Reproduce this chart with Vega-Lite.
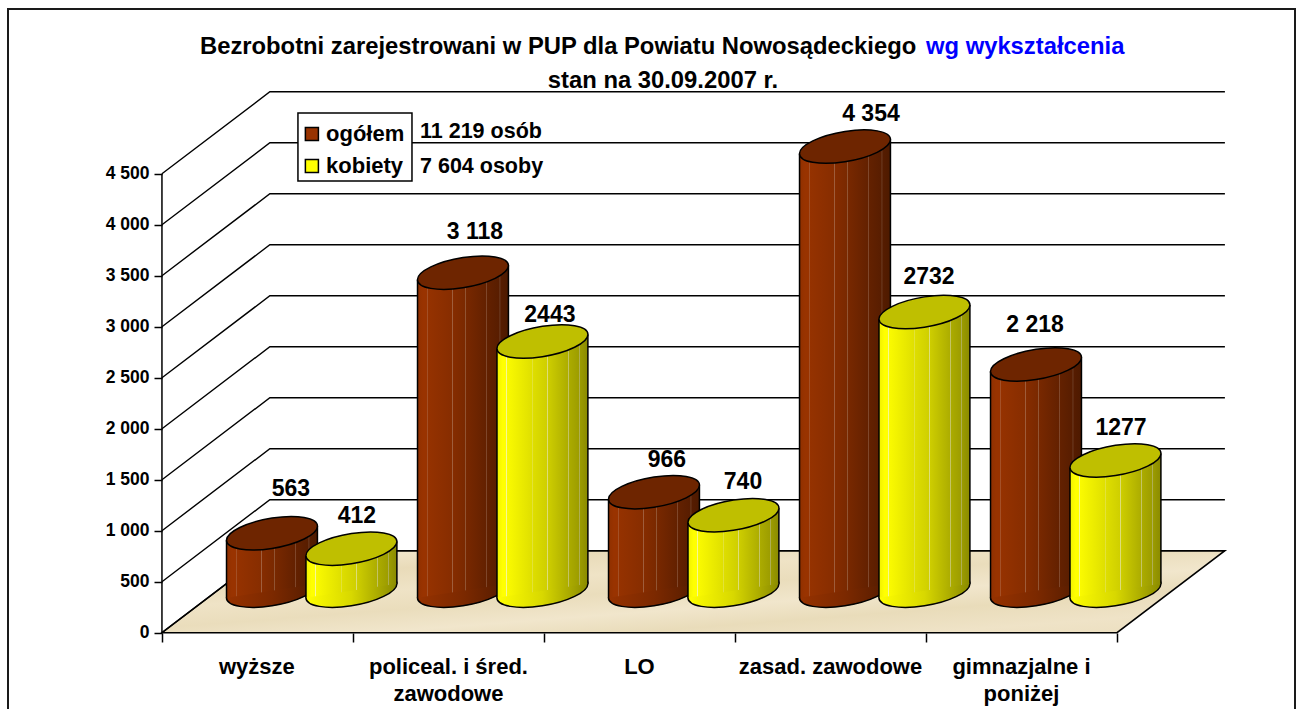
{
"$schema":"https://vega.github.io/schema/vega-lite/v6.json",
"width":1287,"height":703,"autosize":{"type":"none"},
"padding":{"left":8,"top":9,"right":8,"bottom":0},
"background":"#ffffff",
"config":{"font":"Liberation Sans","view":{"stroke":"#1a1a1a","strokeWidth":2}},
"datasets":{
"siatka":[
{"poziom":0,"x":0,"y":0},{"poziom":0,"x":0.565,"y":804},{"poziom":0,"x":5.565,"y":804},
{"poziom":500,"x":0,"y":500},{"poziom":500,"x":0.565,"y":1304},{"poziom":500,"x":5.565,"y":1304},
{"poziom":1000,"x":0,"y":1000},{"poziom":1000,"x":0.565,"y":1804},{"poziom":1000,"x":5.565,"y":1804},
{"poziom":1500,"x":0,"y":1500},{"poziom":1500,"x":0.565,"y":2304},{"poziom":1500,"x":5.565,"y":2304},
{"poziom":2000,"x":0,"y":2000},{"poziom":2000,"x":0.565,"y":2804},{"poziom":2000,"x":5.565,"y":2804},
{"poziom":2500,"x":0,"y":2500},{"poziom":2500,"x":0.565,"y":3304},{"poziom":2500,"x":5.565,"y":3304},
{"poziom":3000,"x":0,"y":3000},{"poziom":3000,"x":0.565,"y":3804},{"poziom":3000,"x":5.565,"y":3804},
{"poziom":3500,"x":0,"y":3500},{"poziom":3500,"x":0.565,"y":4304},{"poziom":3500,"x":5.565,"y":4304},
{"poziom":4000,"x":0,"y":4000},{"poziom":4000,"x":0.565,"y":4804},{"poziom":4000,"x":5.565,"y":4804},
{"poziom":4500,"x":0,"y":4500},{"poziom":4500,"x":0.565,"y":5304},{"poziom":4500,"x":5.565,"y":5304}
],
"podloga":[{"x":0,"g":0,"d":0},{"x":0.565,"g":804,"d":0},{"x":5,"g":804,"d":0},{"x":5.565,"g":804,"d":804}],
"os":[{"x":0,"od":0,"do":4500}],
"walce":[
{"kat":"wyższe","seria":"ogółem","wartosc":563,"x":0.576},
{"kat":"wyższe","seria":"kobiety","wartosc":412,"x":0.992},
{"kat":"policeal","seria":"ogółem","wartosc":3118,"x":1.576},
{"kat":"policeal","seria":"kobiety","wartosc":2443,"x":1.992},
{"kat":"LO","seria":"ogółem","wartosc":966,"x":2.576},
{"kat":"LO","seria":"kobiety","wartosc":740,"x":2.992},
{"kat":"zasad","seria":"ogółem","wartosc":4354,"x":3.576},
{"kat":"zasad","seria":"kobiety","wartosc":2732,"x":3.992},
{"kat":"gimn","seria":"ogółem","wartosc":2218,"x":4.576},
{"kat":"gimn","seria":"kobiety","wartosc":1277,"x":4.992}
],
"krawedzie":[
{"kat":"wyższe","seria":"ogółem","x":0.338,"gora":494,"dol":-69},{"kat":"wyższe","seria":"ogółem","x":0.814,"gora":632,"dol":69},
{"kat":"wyższe","seria":"kobiety","x":0.754,"gora":343,"dol":-69},{"kat":"wyższe","seria":"kobiety","x":1.23,"gora":481,"dol":69},
{"kat":"policeal","seria":"ogółem","x":1.338,"gora":3049,"dol":-69},{"kat":"policeal","seria":"ogółem","x":1.814,"gora":3187,"dol":69},
{"kat":"policeal","seria":"kobiety","x":1.754,"gora":2374,"dol":-69},{"kat":"policeal","seria":"kobiety","x":2.23,"gora":2512,"dol":69},
{"kat":"LO","seria":"ogółem","x":2.338,"gora":897,"dol":-69},{"kat":"LO","seria":"ogółem","x":2.814,"gora":1035,"dol":69},
{"kat":"LO","seria":"kobiety","x":2.754,"gora":671,"dol":-69},{"kat":"LO","seria":"kobiety","x":3.23,"gora":809,"dol":69},
{"kat":"zasad","seria":"ogółem","x":3.338,"gora":4285,"dol":-69},{"kat":"zasad","seria":"ogółem","x":3.814,"gora":4423,"dol":69},
{"kat":"zasad","seria":"kobiety","x":3.754,"gora":2663,"dol":-69},{"kat":"zasad","seria":"kobiety","x":4.23,"gora":2801,"dol":69},
{"kat":"gimn","seria":"ogółem","x":4.338,"gora":2149,"dol":-69},{"kat":"gimn","seria":"ogółem","x":4.814,"gora":2287,"dol":69},
{"kat":"gimn","seria":"kobiety","x":4.754,"gora":1208,"dol":-69},{"kat":"gimn","seria":"kobiety","x":5.23,"gora":1346,"dol":69}
],
"etykiety":[
{"t":"563","x":0.675,"y":1409},{"t":"412","x":1.021,"y":1147},
{"t":"3 118","x":1.639,"y":3928},{"t":"2443","x":2.031,"y":3115},
{"t":"966","x":2.644,"y":1693},{"t":"740","x":3.042,"y":1477},
{"t":"4 354","x":3.712,"y":5085},{"t":"2732","x":4.016,"y":3487},
{"t":"2 218","x":4.571,"y":3017},{"t":"1277","x":5.021,"y":2007}
],
"kategorie":[
{"t":"wyższe","x":0.497},{"t":"policeal. i śred.\nzawodowe","x":1.5},{"t":"LO","x":2.5},{"t":"zasad. zawodowe","x":3.5},{"t":"gimnazjalne i\nponiżej","x":4.5}
],
"legenda":[
{"seria":"ogółem","x":0.785,"xt":0.859,"y":4890,"suma":"11 219 osób","xs":1.351,"ys":4910},
{"seria":"kobiety","x":0.785,"xt":0.859,"y":4575,"suma":"7 604 osoby","xs":1.351,"ys":4565}
],
"ramka":[{"x":0.712,"x2":1.309,"y":4428,"y2":5095}],
"tytul":[{"t":"Bezrobotni zarejestrowani w PUP dla Powiatu Nowosądeckiego","x":0.199,"y":5742}],
"tytulNiebieski":[{"t":"wg wykształcenia","x":4.0,"y":5742}],
"tytul2":[{"t":"stan na 30.09.2007 r.","x":2.623,"y":5409}]
},
"resolve":{"scale":{"y":"independent"},"axis":{"x":"independent","y":"independent"}},
"layer":[
{
"resolve":{"axis":{"x":"independent","y":"independent"}},
"layer":[
{"data":{"name":"podloga"},
 "mark":{"type":"area","stroke":"#000000","strokeWidth":1.5,"fill":{"gradient":"linear","x1":0,"x2":1,"y1":0,"y2":1,"stops":[{"offset":0,"color":"#ecdfc0"},{"offset":0.12,"color":"#f0e5ca"},{"offset":0.22,"color":"#e9dbb9"},{"offset":0.35,"color":"#efe3c6"},{"offset":0.47,"color":"#eaddbc"},{"offset":0.6,"color":"#f1e6cc"},{"offset":0.72,"color":"#e9dcba"},{"offset":0.86,"color":"#efe3c7"},{"offset":1,"color":"#ebdebe"}]}},
 "encoding":{
  "x":{"field":"x","type":"quantitative","scale":{"domain":[-0.806,5.932],"nice":false,"zero":false},"axis":{"values":[0,1,2,3,4,5],"labels":false,"domain":false,"grid":false,"ticks":true,"tickSize":9,"tickWidth":1.5,"tickColor":"#000000","offset":-79,"title":null}},
  "y":{"field":"g","type":"quantitative","scale":{"domain":[-777.5,6115],"nice":false,"zero":false},"axis":{"values":[0,500,1000,1500,2000,2500,3000,3500,4000,4500],"labelExpr":"replace(format(datum.value, ','), ',', ' ')","domain":false,"grid":false,"tickSize":8,"tickWidth":1.5,"tickColor":"#000000","labelFontSize":17.5,"labelFontWeight":"bold","labelColor":"#000000","labelPadding":5,"offset":-154,"title":null}},
  "y2":{"field":"d"}}},
{"data":{"name":"siatka"},
 "mark":{"type":"line","stroke":"#000000","strokeWidth":1.4},
 "encoding":{
  "x":{"field":"x","type":"quantitative","sort":null,"scale":{"domain":[-0.806,5.932],"nice":false,"zero":false},"axis":null},
  "y":{"field":"y","type":"quantitative","scale":{"domain":[-777.5,6115],"nice":false,"zero":false},"axis":null},
  "detail":{"field":"poziom"}}},
{"data":{"name":"os"},
 "mark":{"type":"rule","stroke":"#000000","strokeWidth":1.5},
 "encoding":{
  "x":{"field":"x","type":"quantitative","scale":{"domain":[-0.806,5.932],"nice":false,"zero":false},"axis":null},
  "y":{"field":"od","type":"quantitative","scale":{"domain":[-777.5,6115],"nice":false,"zero":false},"axis":null},
  "y2":{"field":"do"}}}
]},
{
"resolve":{"axis":{"x":"independent","y":"independent"}},
"layer":[
{"data":{"name":"walce"},"transform":[{"filter":"datum.seria==='ogółem'"}],
 "mark":{"type":"point","filled":true,"opacity":1,"size":8281,"shape":"M1,-0.155C1,0.029,0.552,0.247,0,0.333C-0.552,0.419,-1,0.339,-1,0.155C-1,-0.029,-0.552,-0.247,0,-0.333C0.552,-0.419,1,-0.339,1,-0.155Z","stroke":"#000000","strokeWidth":1.5,
  "fill":{"gradient":"linear","x1":0,"x2":1,"y1":0,"y2":0,"stops":[{"offset":0,"color":"#963200"},{"offset":0.5,"color":"#7c2900"},{"offset":1,"color":"#521b00"}]}},
 "encoding":{
  "x":{"field":"x","type":"quantitative","scale":{"domain":[-0.806,5.932],"nice":false,"zero":false},"axis":null},
  "y":{"datum":0,"type":"quantitative","scale":{"domain":[-1189.5,5703],"nice":false,"zero":false},"axis":null},
  "detail":{"field":"kat"}}},
{"data":{"name":"krawedzie"},"transform":[{"filter":"datum.seria==='ogółem'"}],
 "mark":{"type":"area","opacity":1,
  "fill":{"gradient":"linear","x1":0,"x2":1,"y1":0,"y2":0,"stops":[{"offset":0,"color":"#8f3000"},{"offset":0.06,"color":"#993300"},{"offset":0.1,"color":"#993300"},{"offset":0.105,"color":"#b06a48"},{"offset":0.115,"color":"#953200"},{"offset":0.38,"color":"#872d00"},{"offset":0.385,"color":"#a0603f"},{"offset":0.395,"color":"#852c00"},{"offset":0.52,"color":"#7a2900"},{"offset":0.525,"color":"#9a6445"},{"offset":0.535,"color":"#782800"},{"offset":0.75,"color":"#642100"},{"offset":0.755,"color":"#8f5c43"},{"offset":0.765,"color":"#632100"},{"offset":0.9,"color":"#581d00"},{"offset":0.905,"color":"#7d5640"},{"offset":0.915,"color":"#561c00"},{"offset":1,"color":"#4d1a00"}]}},
 "encoding":{
  "x":{"field":"x","type":"quantitative","scale":{"domain":[-0.806,5.932],"nice":false,"zero":false},"axis":null},
  "y":{"field":"gora","type":"quantitative","scale":{"domain":[-1189.5,5703],"nice":false,"zero":false},"axis":null},
  "y2":{"field":"dol"},
  "detail":{"field":"kat"}}},
{"data":{"name":"krawedzie"},"transform":[{"filter":"datum.seria==='ogółem'"}],
 "mark":{"type":"rule","stroke":"#000000","strokeWidth":1.5},
 "encoding":{
  "x":{"field":"x","type":"quantitative","scale":{"domain":[-0.806,5.932],"nice":false,"zero":false},"axis":null},
  "y":{"field":"gora","type":"quantitative","scale":{"domain":[-1189.5,5703],"nice":false,"zero":false},"axis":null},
  "y2":{"field":"dol"}}},
{"data":{"name":"walce"},"transform":[{"filter":"datum.seria==='ogółem'"}],
 "mark":{"type":"point","filled":true,"opacity":1,"fill":"#6e2500","size":8281,"shape":"M1,-0.155C1,0.029,0.552,0.247,0,0.333C-0.552,0.419,-1,0.339,-1,0.155C-1,-0.029,-0.552,-0.247,0,-0.333C0.552,-0.419,1,-0.339,1,-0.155Z","stroke":"#000000","strokeWidth":1.5},
 "encoding":{
  "x":{"field":"x","type":"quantitative","scale":{"domain":[-0.806,5.932],"nice":false,"zero":false},"axis":null},
  "y":{"field":"wartosc","type":"quantitative","scale":{"domain":[-1189.5,5703],"nice":false,"zero":false},"axis":null}}},
{"data":{"name":"walce"},"transform":[{"filter":"datum.seria==='kobiety'"}],
 "mark":{"type":"point","filled":true,"opacity":1,"size":8281,"shape":"M1,-0.155C1,0.029,0.552,0.247,0,0.333C-0.552,0.419,-1,0.339,-1,0.155C-1,-0.029,-0.552,-0.247,0,-0.333C0.552,-0.419,1,-0.339,1,-0.155Z","stroke":"#000000","strokeWidth":1.5,
  "fill":{"gradient":"linear","x1":0,"x2":1,"y1":0,"y2":0,"stops":[{"offset":0,"color":"#ffff00"},{"offset":0.5,"color":"#d8d800"},{"offset":1,"color":"#8a8a00"}]}},
 "encoding":{
  "x":{"field":"x","type":"quantitative","scale":{"domain":[-0.806,5.932],"nice":false,"zero":false},"axis":null},
  "y":{"datum":0,"type":"quantitative","scale":{"domain":[-1189.5,5703],"nice":false,"zero":false},"axis":null},
  "detail":{"field":"kat"}}},
{"data":{"name":"krawedzie"},"transform":[{"filter":"datum.seria==='kobiety'"}],
 "mark":{"type":"area","opacity":1,
  "fill":{"gradient":"linear","x1":0,"x2":1,"y1":0,"y2":0,"stops":[{"offset":0,"color":"#f0f000"},{"offset":0.06,"color":"#ffff00"},{"offset":0.1,"color":"#ffff00"},{"offset":0.105,"color":"#f5f5a0"},{"offset":0.115,"color":"#fafa00"},{"offset":0.38,"color":"#e0e000"},{"offset":0.385,"color":"#e8e880"},{"offset":0.395,"color":"#dede00"},{"offset":0.55,"color":"#cfcf00"},{"offset":0.555,"color":"#dede80"},{"offset":0.565,"color":"#cdcd00"},{"offset":0.78,"color":"#adad00"},{"offset":0.785,"color":"#c8c878"},{"offset":0.795,"color":"#abab00"},{"offset":0.9,"color":"#9d9d00"},{"offset":0.905,"color":"#b5b570"},{"offset":0.915,"color":"#9b9b00"},{"offset":1,"color":"#8a8a00"}]}},
 "encoding":{
  "x":{"field":"x","type":"quantitative","scale":{"domain":[-0.806,5.932],"nice":false,"zero":false},"axis":null},
  "y":{"field":"gora","type":"quantitative","scale":{"domain":[-1189.5,5703],"nice":false,"zero":false},"axis":null},
  "y2":{"field":"dol"},
  "detail":{"field":"kat"}}},
{"data":{"name":"krawedzie"},"transform":[{"filter":"datum.seria==='kobiety'"}],
 "mark":{"type":"rule","stroke":"#000000","strokeWidth":1.5},
 "encoding":{
  "x":{"field":"x","type":"quantitative","scale":{"domain":[-0.806,5.932],"nice":false,"zero":false},"axis":null},
  "y":{"field":"gora","type":"quantitative","scale":{"domain":[-1189.5,5703],"nice":false,"zero":false},"axis":null},
  "y2":{"field":"dol"}}},
{"data":{"name":"walce"},"transform":[{"filter":"datum.seria==='kobiety'"}],
 "mark":{"type":"point","filled":true,"opacity":1,"fill":"#bfbf00","size":8281,"shape":"M1,-0.155C1,0.029,0.552,0.247,0,0.333C-0.552,0.419,-1,0.339,-1,0.155C-1,-0.029,-0.552,-0.247,0,-0.333C0.552,-0.419,1,-0.339,1,-0.155Z","stroke":"#000000","strokeWidth":1.5},
 "encoding":{
  "x":{"field":"x","type":"quantitative","scale":{"domain":[-0.806,5.932],"nice":false,"zero":false},"axis":null},
  "y":{"field":"wartosc","type":"quantitative","scale":{"domain":[-1189.5,5703],"nice":false,"zero":false},"axis":null}}}
]},
{
"resolve":{"axis":{"x":"independent","y":"independent"}},
"layer":[
{"data":{"name":"etykiety"},
 "mark":{"type":"text","fontSize":23,"fontWeight":"bold","fill":"#000000","align":"center","baseline":"middle"},
 "encoding":{
  "x":{"field":"x","type":"quantitative","scale":{"domain":[-0.806,5.932],"nice":false,"zero":false},"axis":null},
  "y":{"field":"y","type":"quantitative","scale":{"domain":[-777.5,6115],"nice":false,"zero":false},"axis":null},
  "text":{"field":"t"}}},
{"data":{"name":"kategorie"},
 "mark":{"type":"text","fontSize":22,"fontWeight":"bold","fill":"#000000","align":"center","baseline":"top","lineBreak":"\n","lineHeight":27},
 "encoding":{
  "x":{"field":"x","type":"quantitative","scale":{"domain":[-0.806,5.932],"nice":false,"zero":false},"axis":null},
  "y":{"datum":-240,"type":"quantitative","scale":{"domain":[-777.5,6115],"nice":false,"zero":false},"axis":null},
  "text":{"field":"t"}}},
{"data":{"name":"ramka"},
 "mark":{"type":"rect","fill":"#ffffff","stroke":"#000000","strokeWidth":1.5},
 "encoding":{
  "x":{"field":"x","type":"quantitative","scale":{"domain":[-0.806,5.932],"nice":false,"zero":false},"axis":null},
  "x2":{"field":"x2"},
  "y":{"field":"y","type":"quantitative","scale":{"domain":[-777.5,6115],"nice":false,"zero":false},"axis":null},
  "y2":{"field":"y2"}}},
{"data":{"name":"legenda"},
 "mark":{"type":"point","shape":"square","filled":true,"opacity":1,"size":170,"stroke":"#000000","strokeWidth":1.5},
 "encoding":{
  "x":{"field":"x","type":"quantitative","scale":{"domain":[-0.806,5.932],"nice":false,"zero":false},"axis":null},
  "y":{"field":"y","type":"quantitative","scale":{"domain":[-777.5,6115],"nice":false,"zero":false},"axis":null},
  "fill":{"field":"seria","type":"nominal","scale":{"domain":["ogółem","kobiety"],"range":["#993300","#ffff00"]},"legend":null}}},
{"data":{"name":"legenda"},
 "mark":{"type":"text","fontSize":22,"fontWeight":"bold","fill":"#000000","align":"left","baseline":"middle"},
 "encoding":{
  "x":{"field":"xt","type":"quantitative","scale":{"domain":[-0.806,5.932],"nice":false,"zero":false},"axis":null},
  "y":{"field":"y","type":"quantitative","scale":{"domain":[-777.5,6115],"nice":false,"zero":false},"axis":null},
  "text":{"field":"seria"}}},
{"data":{"name":"legenda"},
 "mark":{"type":"text","fontSize":21.5,"fontWeight":"bold","fill":"#000000","align":"left","baseline":"middle"},
 "encoding":{
  "x":{"field":"xs","type":"quantitative","scale":{"domain":[-0.806,5.932],"nice":false,"zero":false},"axis":null},
  "y":{"field":"ys","type":"quantitative","scale":{"domain":[-777.5,6115],"nice":false,"zero":false},"axis":null},
  "text":{"field":"suma"}}},
{"data":{"name":"tytul"},
 "mark":{"type":"text","fontSize":23.8,"fontWeight":"bold","align":"left","baseline":"middle","fill":"#000000"},
 "encoding":{
  "x":{"field":"x","type":"quantitative","scale":{"domain":[-0.806,5.932],"nice":false,"zero":false},"axis":null},
  "y":{"field":"y","type":"quantitative","scale":{"domain":[-777.5,6115],"nice":false,"zero":false},"axis":null},
  "text":{"field":"t"}}},
{"data":{"name":"tytulNiebieski"},
 "mark":{"type":"text","fontSize":23.8,"fontWeight":"bold","align":"left","baseline":"middle","fill":"#0000ff"},
 "encoding":{
  "x":{"field":"x","type":"quantitative","scale":{"domain":[-0.806,5.932],"nice":false,"zero":false},"axis":null},
  "y":{"field":"y","type":"quantitative","scale":{"domain":[-777.5,6115],"nice":false,"zero":false},"axis":null},
  "text":{"field":"t"}}},
{"data":{"name":"tytul2"},
 "mark":{"type":"text","fontSize":23.8,"fontWeight":"bold","align":"center","baseline":"middle","fill":"#000000"},
 "encoding":{
  "x":{"field":"x","type":"quantitative","scale":{"domain":[-0.806,5.932],"nice":false,"zero":false},"axis":null},
  "y":{"field":"y","type":"quantitative","scale":{"domain":[-777.5,6115],"nice":false,"zero":false},"axis":null},
  "text":{"field":"t"}}}
]}
]
}
